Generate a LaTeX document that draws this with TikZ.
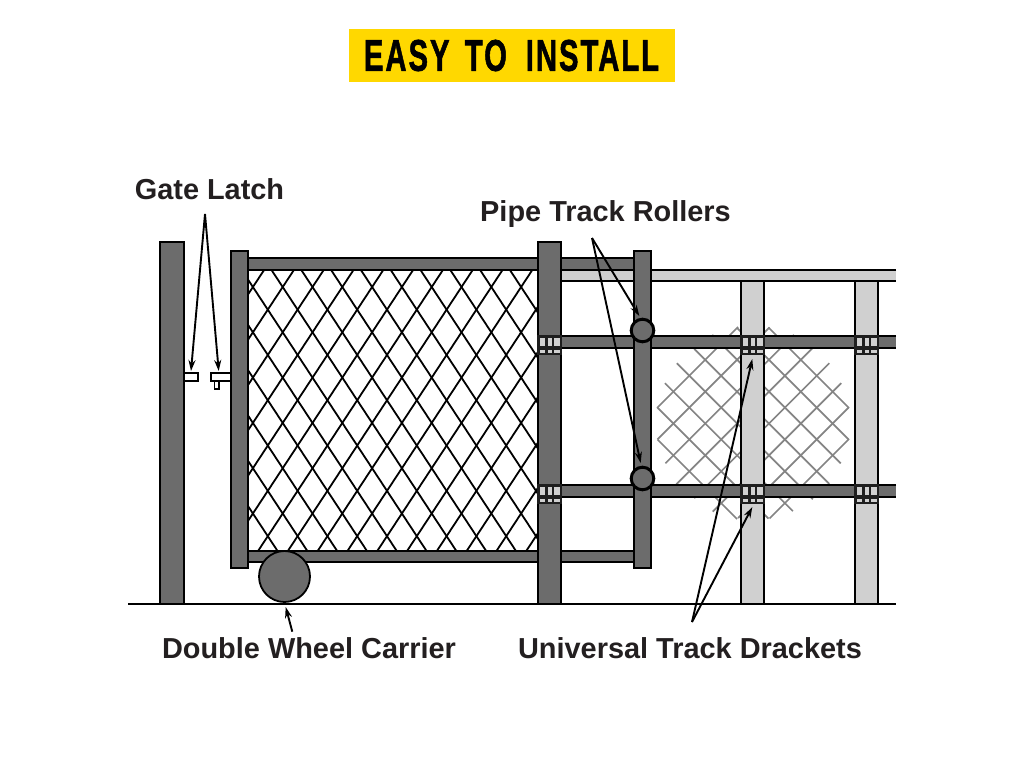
\documentclass[tikz,border=0pt]{standalone}
\usepackage{fontspec}
\usepackage{graphicx}
\setmainfont{Liberation Sans}
\usetikzlibrary{arrows.meta}
\definecolor{darkbar}{RGB}{108,108,108}
\definecolor{lightbar}{RGB}{208,208,208}
\definecolor{greymesh}{RGB}{132,132,132}
\definecolor{banner}{RGB}{255,216,0}
\definecolor{labeltext}{RGB}{35,31,32}
\definecolor{bracketgap}{RGB}{30,30,30}
\tikzset{
	darkpart/.style={draw=black, fill=darkbar, line width=1.8pt},
	lightpart/.style={draw=black, fill=lightbar, line width=1.8pt},
	latchpart/.style={draw=black, fill=white, line width=1.5pt},
	callout/.style={draw=black, line width=1.9pt, -{Stealth[length=11pt,width=7pt]}},
	partlabel/.style={inner sep=0pt, text=labeltext, font=\fontsize{28.9}{32}\selectfont\bfseries}
}
\begin{document}
\begin{tikzpicture}[x=1pt,y=-1pt]
	\useasboundingbox (0,0) rectangle (1024,768);

	% banner
	\fill[banner] (349,29) rectangle (675,82);
	\node[inner sep=0pt] (banner) at (511.5,55.5) {\resizebox{295pt}{31pt}{\addfontfeature{LetterSpace=7,FakeBold=1.6}\bfseries EASY\hspace{0.18em} TO\hspace{0.3em} INSTALL}};

	% mesh behind the track
	\foreach \i/\a/\b in {0/249/411, 1/218/442, 2/202/459, 3/192/464, 4/196/466, 5/201/458, 6/220/441, 7/251/410}{
			\pgfmathsetmacro{\c}{1065+31.86*\i}
			\draw[greymesh, line width=1.7pt] ({(\c+\a)/2},{(\c-\a)/2}) -- ({(\c+\b)/2},{(\c-\b)/2});
		}
	\foreach \i/\a/\b in {0/1097/1256, 1/1065/1287, 2/1048/1304, 3/1040/1312, 4/1043/1313, 5/1047/1304, 6/1065/1288, 7/1096/1257}{
			\pgfmathsetmacro{\d}{218+31.86*\i}
			\draw[greymesh, line width=1.7pt] ({(\a+\d)/2},{(\a-\d)/2}) -- ({(\b+\d)/2},{(\b-\d)/2});
		}

	% track
	\draw[lightpart] (896,270) -- (561,270) -- (561,281) -- (896,281);
	\draw[lightpart] (741,281) rectangle (764,604);
	\draw[lightpart] (855,281) rectangle (878,604);
	\draw[darkpart] (896,336) -- (561,336) -- (561,348) -- (896,348);
	\draw[darkpart] (896,485) -- (561,485) -- (561,497) -- (896,497);

	% gate rails and mesh
	\begin{scope}
		\clip (248,270) rectangle (538,551);
		\foreach \k in {-12, ..., 20}{
				\pgfmathsetmacro{\xa}{282.7+29.8*\k}
				\draw[line width=1.8pt] ({\xa-37.5},230) -- ({\xa+205.9},600);
				\draw[line width=1.8pt] ({\xa+37.5},230) -- ({\xa-205.9},600);
			}
	\end{scope}
	\draw[darkpart] (248,258) rectangle (634,270);
	\draw[darkpart] (248,551) rectangle (634,562);

	% posts and stiles
	\draw[darkpart] (160,242) rectangle (184,604);
	\draw[darkpart] (231,251) rectangle (248,568);
	\draw[darkpart] (538,242) rectangle (561,604);
	\draw[darkpart] (634,251) rectangle (651,568);

	% brackets
	\foreach \x in {538, 741, 855}{
			\foreach \y in {336, 485}{
					\fill[bracketgap] (\x-0.9,\y-0.9) rectangle ({\x+23.9},{\y+19});
					\foreach \u/\w in {1.5/5.5, 9.5/4.2, 16/5.5}{
							\fill[lightbar] ({\x+\u},{\y+1.5}) rectangle ({\x+\u+\w},{\y+10.2});
							\fill[lightbar] ({\x+\u},{\y+13.8}) rectangle ({\x+\u+\w},{\y+17});
						}
				}
		}

	% latch
	\draw[latchpart] (184,373) rectangle (198,381);
	\draw[latchpart] (214.5,381) rectangle (219,389);
	\draw[latchpart] (211,373) rectangle (231,381);

	% rollers and wheel
	\draw[darkpart, line width=3pt] (642.5,330.5) circle (11.3);
	\draw[darkpart, line width=3pt] (642.5,478.5) circle (11.3);
	\draw[darkpart] (284.5,576.5) circle (25.5);

	% ground
	\draw[line width=1.8pt] (128,604) -- (896,604);

	% labels
	\node[partlabel] (latch) at (209.5,189) {Gate Latch};
	\node[partlabel] (rollers) at (605.5,214.5) {Pipe Track Rollers};
	\node[partlabel] (wheel) at (309,648) {Double Wheel Carrier};
	\node[partlabel] (brackets) at (690,648) {Universal Track Drackets};

	\coordinate (latchfrom) at (205,214);
	\coordinate (latchl) at (191,371);
	\coordinate (latchr) at (218.7,371);
	\coordinate (rollerfrom) at (592,238);
	\coordinate (rollera) at (639.3,316);
	\coordinate (rollerb) at (640.7,463);
	\coordinate (wheelfrom) at (292.3,631.7);
	\coordinate (wheelto) at (285.7,607);
	\coordinate (bracketfrom) at (692,622);
	\coordinate (bracketa) at (752.3,359);
	\coordinate (bracketb) at (752.3,507);

	\draw[callout] (latchfrom) -- (latchl);
	\draw[callout] (latchfrom) -- (latchr);
	\draw[callout] (rollerfrom) -- (rollera);
	\draw[callout] (rollerfrom) -- (rollerb);
	\draw[callout] (wheelfrom) -- (wheelto);
	\draw[callout] (bracketfrom) -- (bracketa);
	\draw[callout] (bracketfrom) -- (bracketb);
\end{tikzpicture}
\end{document}
